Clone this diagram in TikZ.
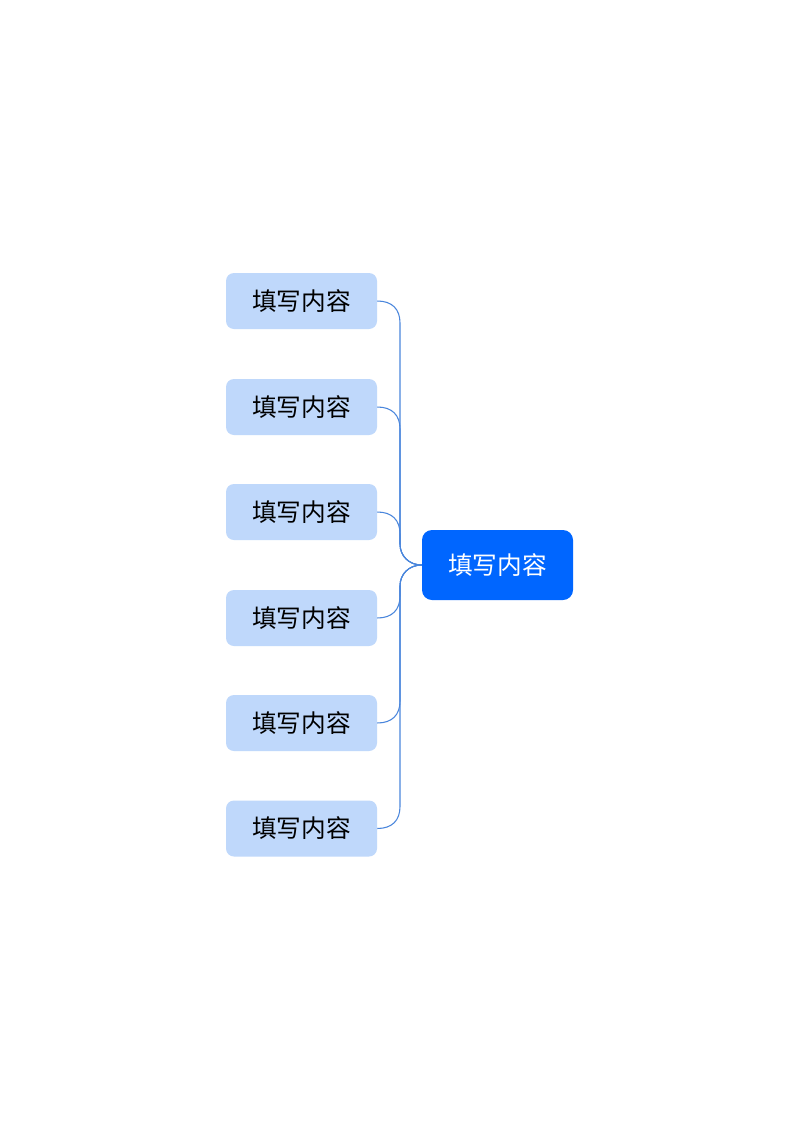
\documentclass[tikz,border=0pt]{standalone}
\usepackage{fontspec}
\newfontfamily\cjk{Noto Sans CJK SC}
\definecolor{childfill}{HTML}{BFD8FB}
\definecolor{rootfill}{HTML}{0066FF}
\definecolor{linkcol}{HTML}{4A86DC}
\begin{document}
\begin{tikzpicture}[x=0.75pt,y=-0.75pt,
  childbox/.style={fill=childfill, rounded corners=6pt, minimum width=113.25pt, minimum height=42pt, inner sep=0pt, text=black, font=\cjk\fontsize{18.5pt}{21pt}\selectfont},
  rootbox/.style={fill=rootfill, rounded corners=7.5pt, minimum width=113.25pt, minimum height=52.5pt, inner sep=0pt, text=white, font=\cjk\fontsize{18.5pt}{21pt}\selectfont},
  link/.style={draw=linkcol, line width=0.8pt}]
\useasboundingbox[fill=white] (0,0) rectangle (800,1131);
\node[rootbox] (root) at (497.5,565) {填写内容};
\node[childbox] (c1) at (301.5,301) {填写内容};
\node[childbox] (c2) at (301.5,407) {填写内容};
\node[childbox] (c3) at (301.5,512) {填写内容};
\node[childbox] (c4) at (301.5,618) {填写内容};
\node[childbox] (c5) at (301.5,723) {填写内容};
\node[childbox] (c6) at (301.5,828.5) {填写内容};
\coordinate (ju) at (400,544);
\coordinate (jd) at (400,586);
\foreach \c/\y in {c1/301,c2/407,c3/512}{
  \draw[link] (\c.east) .. controls (392,\y) and (400,\y+8) .. (400,\y+22) -- (ju) .. controls (400,556) and (409,565) .. (root.west);
}
\foreach \c/\y in {c4/618,c5/723,c6/828.5}{
  \draw[link] (\c.east) .. controls (392,\y) and (400,\y-8) .. (400,\y-22) -- (jd) .. controls (400,574) and (409,565) .. (root.west);
}
\end{tikzpicture}
\end{document}
